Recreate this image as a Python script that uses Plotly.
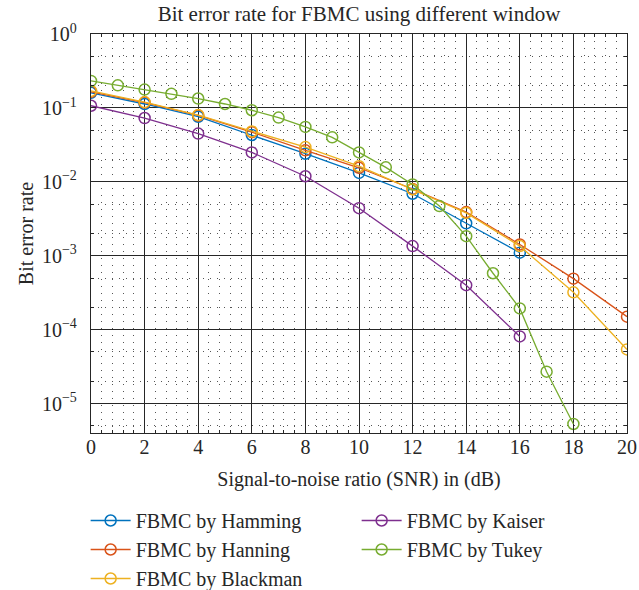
import plotly.graph_objects as go
import numpy as np

snr_even = [0, 2, 4, 6, 8, 10, 12, 14, 16]
hamming = [0.16, 0.113, 0.076, 0.043, 0.024, 0.0132, 0.0069, 0.00275, 0.0011]

snr_hanning = [0, 2, 4, 6, 8, 10, 12, 14, 16, 18, 20]
hanning = [0.165, 0.118, 0.079, 0.047, 0.0267, 0.0155, 0.008, 0.0039, 0.00142, 0.00049, 0.00015]
blackman = [0.17, 0.12, 0.08, 0.048, 0.0295, 0.0163, 0.0079, 0.0038, 0.00135, 0.00032, 0.000054]

kaiser = [0.107, 0.073, 0.045, 0.025, 0.0119, 0.0044, 0.00135, 0.0004, 0.000081]

snr_tukey = list(range(0, 19))
tukey = [0.232, 0.202, 0.177, 0.155, 0.134, 0.113, 0.093, 0.074, 0.0553, 0.040,
         0.025, 0.0157, 0.0092, 0.0047, 0.00184, 0.00058, 0.000194, 0.000027, 0.0000053]

x_ticks = [0, 2, 4, 6, 8, 10, 12, 14, 16, 18, 20]
y_tickvals = [1, 1e-1, 1e-2, 1e-3, 1e-4, 1e-5]
y_ticktext = ["10<sup>0</sup>", "10<sup>−1</sup>", "10<sup>−2</sup>", "10<sup>−3</sup>",
              "10<sup>−4</sup>", "10<sup>−5</sup>"]

series = [
    ("FBMC by Hamming", snr_even, hamming, "#0072BD", 1),
    ("FBMC by Hanning", snr_hanning, hanning, "#D95319", 3),
    ("FBMC by Blackman", snr_hanning, blackman, "#EDB120", 5),
    ("FBMC by Kaiser", snr_even, kaiser, "#7E2F8E", 2),
    ("FBMC by Tukey", snr_tukey, tukey, "#77AC30", 4),
]

FONT = "Liberation Serif"
TXT = "#262626"
W, H = 639, 590
L, T = 91, 34
R = 12
B = H - 433
ph = H - T - B

fig = go.Figure()
for name, xs, ys, col, rank in series:
    fig.add_trace(go.Scatter(
        x=xs, y=ys, name=name, mode="lines+markers",
        line=dict(color=col, width=1.3),
        marker=dict(symbol="circle-open", size=11, color=col, line=dict(width=1.5, color=col)),
        legendrank=rank,
    ))

fig.update_layout(
    width=W, height=H,
    margin=dict(l=L, r=R, t=T, b=B, autoexpand=False),
    paper_bgcolor="white", plot_bgcolor="white",
    font=dict(family=FONT, color=TXT, size=20),
    title=dict(text="Bit error rate for FBMC using different window",
               x=(L + (W - L - R) / 2) / W, xanchor="center",
               y=1 - 14 / H, yanchor="middle",
               font=dict(family=FONT, size=21, color=TXT)),
    showlegend=True,
    legend=dict(orientation="h", x=-0.01, xanchor="left",
                y=-(501 - 433) / ph, yanchor="top",
                entrywidth=216, entrywidthmode="pixels",
                font=dict(family=FONT, size=20, color=TXT),
                bgcolor="rgba(0,0,0,0)", tracegroupgap=0, itemwidth=40),
)

fig.update_xaxes(
    range=[0, 20], tickvals=x_ticks, ticks="inside", ticklen=5, tickcolor="#262626",
    showgrid=True, gridcolor="#262626", gridwidth=1.4,
    showline=True, linecolor="#262626", linewidth=1.4, mirror="ticks",
    zeroline=False, automargin=False, ticklabelstandoff=-4,
    minor=dict(dtick=0.4, showgrid=True, griddash="1px,6px", gridcolor="#555", gridwidth=1,
               ticks="inside", ticklen=3, tickcolor="#262626"),
    title=dict(text="Signal-to-noise ratio (SNR) in (dB)", font=dict(family=FONT, size=20, color=TXT), standoff=14),
    tickfont=dict(family=FONT, size=20, color=TXT),
)
fig.update_yaxes(
    type="log", range=[np.log10(4e-6), 0],
    tickvals=y_tickvals, ticktext=y_ticktext, ticks="inside", ticklen=5, tickcolor="#262626",
    showgrid=True, gridcolor="#262626", gridwidth=1.4,
    showline=True, linecolor="#262626", linewidth=1.4, mirror="ticks",
    zeroline=False, automargin=False, ticklabelstandoff=9,
    minor=dict(showgrid=True, griddash="1px,6px", gridcolor="#555", gridwidth=1,
               ticks="inside", ticklen=3, tickcolor="#262626"),
    title=dict(text="Bit error rate", font=dict(family=FONT, size=20, color=TXT), standoff=2),
    tickfont=dict(family=FONT, size=20, color=TXT),
)

fig.write_html(
    "out.html",
    config={"displayModeBar": False},
    post_script="document.body.style.margin='0px';document.body.style.overflow='hidden';",
)
